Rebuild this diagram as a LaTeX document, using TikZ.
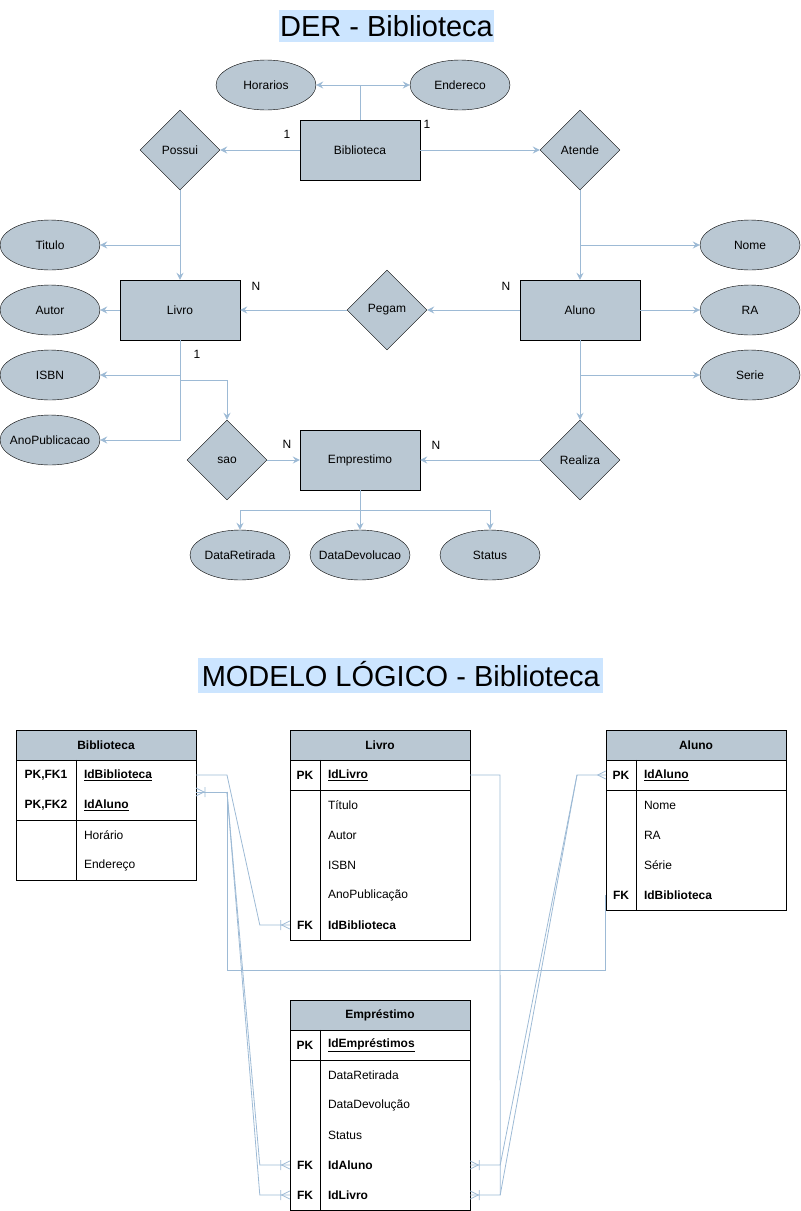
\documentclass[tikz,border=0pt]{standalone}
\usepackage{fontspec}
\setmainfont{Liberation Sans}
\usepackage{xcolor}
\usetikzlibrary{arrows.meta, positioning, shapes.geometric}
\definecolor{shapefill}{HTML}{BAC8D3}
\definecolor{linkblue}{HTML}{9DBAD5}
\definecolor{titlefill}{HTML}{CCE5FF}
\newcommand{\erfont}{\fontsize{12}{14}\selectfont}
\tikzset{
    crowfoot/.pic={\draw[linkblue, line width=0.8pt] (0,-4) -- (8,0) -- (0,4);},
    onemany/.pic={\draw[linkblue, line width=0.8pt] (0,-4) -- (8,0) -- (0,4) (9,-5) -- (9,5);}
}

\begin{document}
\begin{tikzpicture}[x=1pt, y=-1pt, font=\erfont, >={Stealth[length=7pt, width=7pt, inset=2.5pt]}]
    \tikzstyle{entity}=[rectangle, draw=black, fill=shapefill, minimum width=120pt, minimum height=60pt, inner sep=0pt]
    \tikzstyle{attrib}=[ellipse, draw=black, fill=shapefill, minimum width=100pt, minimum height=50pt, inner sep=0pt]
    \tikzstyle{relation}=[diamond, draw=black, fill=shapefill, minimum width=80pt, minimum height=80pt, inner sep=0pt, aspect=1]
    \tikzstyle{connector}=[draw=linkblue, line width=1pt, ->]
    \tikzstyle{cardlabel}=[inner sep=0pt]
    \tikzstyle{headline}=[fill=titlefill, inner xsep=1.5pt, inner ysep=0pt, text height=21pt, text depth=0pt, font=\fontsize{29}{34}\selectfont]
    \tikzstyle{tabhead}=[rectangle, draw=black, line width=0.8pt, fill=shapefill, minimum height=30pt, font=\erfont\bfseries]
    \tikzstyle{tabbody}=[rectangle, draw=black, line width=0.8pt, fill=white]
    \tikzstyle{keycell}=[minimum height=30pt, inner sep=0pt, font=\erfont\bfseries]
    \tikzstyle{fieldcell}=[minimum height=30pt, inner ysep=0pt, inner xsep=8pt, align=left]
    \tikzstyle{tabline}=[draw=black, line width=0.8pt]
    \tikzstyle{relline}=[draw=linkblue, line width=0.8pt]

    \useasboundingbox (0,0) rectangle (801,1211);

    % Titles
    \node[headline, minimum height=32pt] (derTitle) at (386.5,26) {DER - Biblioteca};
    \node[headline, minimum height=35pt, inner xsep=3.5pt] (logicTitle) at (400.8,675.5) {MODELO LÓGICO - Biblioteca};

    % Draw the entities
    \node[entity] (Biblioteca) at (360,150) {Biblioteca};
    \node[entity] (Livro) at (180,310) {Livro};
    \node[entity] (Aluno) at (580,310) {Aluno};
    \node[entity] (Emprestimo) at (360,460) {Emprestimo};

    % Draw the relationships
    \foreach \name / \x / \y in {Possui/180/150, Atende/580/150, Pegam/387/310, sao/227/460, Realiza/580/460}
        \node[relation] (\name) at (\x,\y) {\name};

    % Draw the attributes
    \foreach \name / \x / \y in {Horarios/266/85, Endereco/460/85, Titulo/50/245, Autor/50/310, ISBN/50/375, AnoPublicacao/50/440, Nome/750/245, RA/750/310, Serie/750/375, DataRetirada/240/555, DataDevolucao/360/555, Status/490/555}
        \node[attrib] (\name) at (\x,\y) {\makebox[0pt]{\name}};

    % Connect entities and relationships
    \draw[connector] (Biblioteca) -- (Possui);
    \draw[connector] (Biblioteca) -- (Atende);
    \draw[connector] (Possui) -- (Livro);
    \draw[connector] (Atende) -- (Aluno);
    \draw[connector] (Aluno) -- (Pegam);
    \draw[connector] (Pegam) -- (Livro);
    \draw[connector] (Aluno) -- (Realiza);
    \draw[connector] (Realiza) -- (Emprestimo);
    \draw[connector] (sao) -- (Emprestimo);
    \draw[connector] (Livro.south) -- ++(0,40) -| (sao);

    % Connect the attributes
    \draw[connector] (Biblioteca.north) |- (Horarios);
    \draw[connector] (Biblioteca.north) |- (Endereco);
    \draw[connector] (Possui.south) |- (Titulo);
    \draw[connector] (Livro) -- (Autor);
    \draw[connector] (Livro.south) |- (ISBN);
    \draw[connector] (Livro.south) |- (AnoPublicacao);
    \draw[connector] (Atende.south) |- (Nome);
    \draw[connector] (Aluno) -- (RA);
    \draw[connector] (Aluno.south) |- (Serie);
    \draw[connector] (Emprestimo.south) -- ++(0,20) -| (DataRetirada);
    \draw[connector] (Emprestimo) -- (DataDevolucao);
    \draw[connector] (Emprestimo.south) -- ++(0,20) -| (Status);

    % Cardinalities
    \node[cardlabel] (c-Possui) at (287,134) {1};
    \node[cardlabel] (c-Atende) at (427,124) {1};
    \node[cardlabel] (c-LivroN) at (256,286) {N};
    \node[cardlabel] (c-Livro1) at (197,354) {1};
    \node[cardlabel] (c-AlunoN) at (506,286) {N};
    \node[cardlabel] (c-sao) at (287,444) {N};
    \node[cardlabel] (c-Realiza) at (436,445) {N};

    % Logical model: Biblioteca table
    \node[tabhead, minimum width=180pt] (Bib) at (106,745) {Biblioteca};
    \node[tabbody, minimum width=180pt, minimum height=120pt, below=0pt of Bib] (Bib-body) {};
    \foreach \n / \key / \field / \y in {1/{PK,FK1}/\textbf{\underline{IdBiblioteca}}/775, 2/{PK,FK2}/\textbf{\underline{IdAluno}}/805, 3//Horário/835, 4//Endereço/865} {
        \node[keycell, minimum width=60pt] (Bib-k\n) at (46,\y) {\key};
        \node[fieldcell, text width=104pt] (Bib-\n) at (136,\y) {\field};
    }
    \draw[tabline] (Bib-k2.south west) -- (Bib-2.south east);
    \draw[tabline] (Bib-k1.north east) -- (Bib-k4.south east);

    % Livro table
    \node[tabhead, minimum width=180pt] (Liv) at (380,745) {Livro};
    \node[tabbody, minimum width=180pt, minimum height=180pt, below=0pt of Liv] (Liv-body) {};
    \foreach \n / \key / \field / \y in {1/PK/\textbf{\underline{IdLivro}}/775, 2//Título/805, 3//Autor/835, 4//ISBN/865, 5//AnoPublicação/895, 6/FK/\textbf{IdBiblioteca}/925} {
        \node[keycell, minimum width=30pt] (Liv-k\n) at (305,\y) {\key};
        \node[fieldcell, text width=134pt] (Liv-\n) at (395,\y) {\field};
    }
    \draw[tabline] (Liv-k1.south west) -- (Liv-1.south east);
    \draw[tabline] (Liv-k1.north east) -- (Liv-k6.south east);

    % Aluno table
    \node[tabhead, minimum width=180pt] (Alu) at (696,745) {Aluno};
    \node[tabbody, minimum width=180pt, minimum height=150pt, below=0pt of Alu] (Alu-body) {};
    \foreach \n / \key / \field / \y in {1/PK/\textbf{\underline{IdAluno}}/775, 2//Nome/805, 3//RA/835, 4//Série/865, 5/FK/\textbf{IdBiblioteca}/895} {
        \node[keycell, minimum width=30pt] (Alu-k\n) at (621,\y) {\key};
        \node[fieldcell, text width=134pt] (Alu-\n) at (711,\y) {\field};
    }
    \draw[tabline] (Alu-k1.south west) -- (Alu-1.south east);
    \draw[tabline] (Alu-k1.north east) -- (Alu-k5.south east);

    % Emprestimo table
    \node[tabhead, minimum width=180pt] (Emp) at (380,1015) {Empréstimo};
    \node[tabbody, minimum width=180pt, minimum height=180pt, below=0pt of Emp] (Emp-body) {};
    \foreach \n / \key / \field / \y in {1/PK/\textbf{\underline{IdEmpréstimos}}/1045, 2//DataRetirada/1075, 3//DataDevolução/1105, 4//Status/1135, 5/FK/\textbf{IdAluno}/1165, 6/FK/\textbf{IdLivro}/1195} {
        \node[keycell, minimum width=30pt] (Emp-k\n) at (305,\y) {\key};
        \node[fieldcell, text width=134pt] (Emp-\n) at (395,\y) {\field};
    }
    \draw[tabline] (Emp-k1.south west) -- (Emp-1.south east);
    \draw[tabline] (Emp-k1.north east) -- (Emp-k6.south east);

    % Bends of the table links
    \coordinate (Bib-link) at (196,792);
    \coordinate (jBib) at (227,792);
    \coordinate (jBibKey) at (227,775);
    \coordinate (jLivro) at (500,775);
    \coordinate (jAluno) at (577,775);

    % Link the tables
    \draw[relline] (Bib-1.east) -- (jBibKey) -- ([xshift=-30pt]Liv-k6.west) -- (Liv-k6.west);
    \draw[relline] (Alu-k5.west) -- ++(0,75) -| (jBib) -- (Bib-link);
    \draw[relline] (jBib) -- ([xshift=-30pt]Emp-k5.west) -- (Emp-k5.west);
    \draw[relline] (jBib) -- ([xshift=-30pt]Emp-k6.west) -- (Emp-k6.west);
    \draw[relline] (Liv-1.east) -- (jLivro) -- ([xshift=30pt]Emp-6.east) -- (Emp-6.east);
    \draw[relline] (Alu-k1.west) -- (jAluno) -- ([xshift=30pt]Emp-5.east) -- (Emp-5.east);
    \draw[relline] (jAluno) -- ([xshift=30pt]Emp-6.east);

    % Crow's feet
    \pic[xscale=-1] at (Liv-k6.west) {onemany};
    \pic at (Bib-link) {onemany};
    \pic[xscale=-1] at (Emp-k5.west) {onemany};
    \pic[xscale=-1] at (Emp-k6.west) {onemany};
    \pic at (Emp-5.east) {onemany};
    \pic at (Emp-6.east) {onemany};
    \pic[xscale=-1] at (Alu-k1.west) {crowfoot};

\end{tikzpicture}
\end{document}
